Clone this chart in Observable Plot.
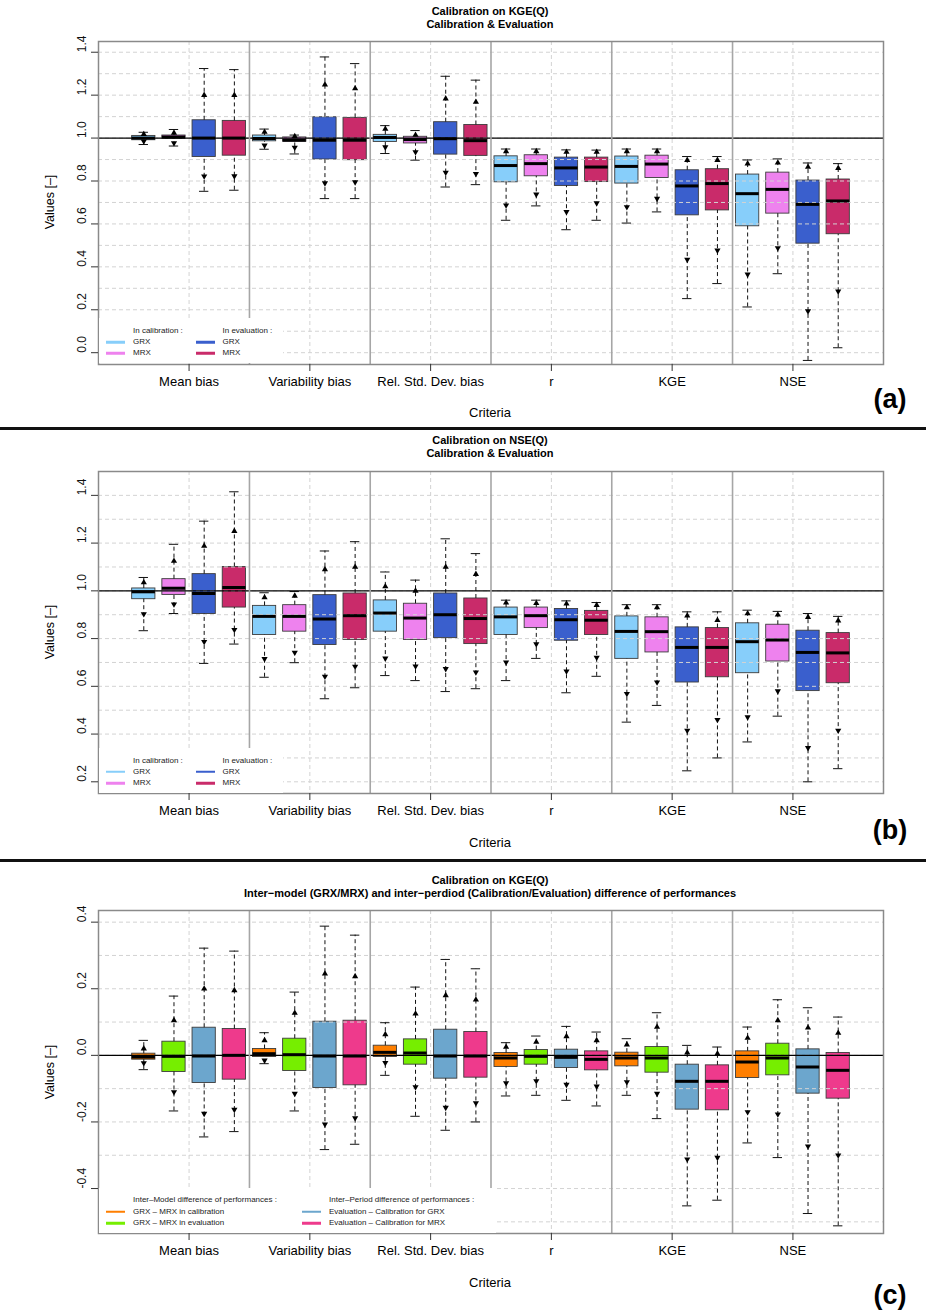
<!DOCTYPE html>
<html><head><meta charset="utf-8">
<script src="https://cdn.jsdelivr.net/npm/d3@7"></script>
<script src="https://cdn.jsdelivr.net/npm/@observablehq/plot@0.6"></script>
<style>
body{margin:0;background:#fff;font-family:"Liberation Sans",Arial,Helvetica,sans-serif;}
#page{position:relative;width:926px;height:1314px;overflow:hidden;background:#fff;}
.panel{position:absolute;left:0;width:926px;}
.panel svg{position:absolute;left:0;top:0;overflow:visible;}
.t{position:absolute;white-space:nowrap;color:#000;line-height:1;transform:translate(-50%,-50%);}
.tl{position:absolute;white-space:nowrap;color:#222;line-height:1;transform:translate(0,-50%);font-size:8px;}
.leg{position:absolute;background:#fff;}
.ll{position:absolute;height:2.5px;width:19px;transform:translate(0,-50%);}
.sep{position:absolute;left:0;width:926px;height:3px;background:#111;}
</style></head><body><div id="page"></div>
<script>
// ---------- categories & series ----------
const criteria = ["Mean bias","Variability bias","Rel. Std. Dev. bias","r","KGE","NSE"];
const seriesAB = ["GRX in calibration","MRX in calibration","GRX in evaluation","MRX in evaluation"];
const colorsAB = ["#87CEFA","#EE82EE","#3A5FCD","#C92B6A"];
const seriesC = ["GRX − MRX in calibration","GRX − MRX in evaluation","Evaluation − Calibration for GRX","Evaluation − Calibration for MRX"];
const colorsC = ["#FF7F00","#76EE00","#6CA6CD","#EE3A8C"];

// ---------- panel (a): Calibration on KGE(Q) ----------
// order in each criterion: GRX cal, MRX cal, GRX eval, MRX eval
const aLow  = [0.970,0.963,0.752,0.757, 0.948,0.926,0.718,0.718, 0.928,0.897,0.772,0.783, 0.617,0.684,0.573,0.617, 0.604,0.656,0.252,0.322, 0.213,0.368,-0.036,0.023];
const aTLo  = [0.985,0.977,0.822,0.823, 0.966,0.956,0.790,0.795, 0.958,0.935,0.840,0.834, 0.687,0.738,0.656,0.697, 0.679,0.718,0.434,0.477, 0.365,0.488,0.194,0.286];
const aQ1   = [0.990,0.997,0.912,0.918, 0.985,0.983,0.900,0.897, 0.982,0.975,0.923,0.917, 0.794,0.822,0.777,0.795, 0.788,0.814,0.640,0.663, 0.589,0.648,0.508,0.552];
const aMed  = [1.000,1.005,1.000,1.000, 0.998,0.990,0.990,0.990, 1.003,0.993,0.997,0.988, 0.872,0.881,0.861,0.865, 0.868,0.879,0.777,0.788, 0.741,0.761,0.691,0.707];
const aQ3   = [1.010,1.012,1.083,1.080, 1.012,1.003,1.097,1.094, 1.015,1.006,1.074,1.061, 0.915,0.920,0.909,0.909, 0.914,0.918,0.850,0.855, 0.830,0.839,0.802,0.807];
const aTHi  = [1.018,1.024,1.200,1.200, 1.028,1.008,1.249,1.231, 1.042,1.014,1.184,1.168, 0.938,0.938,0.935,0.935, 0.938,0.938,0.897,0.897, 0.881,0.885,0.865,0.860];
const aHigh = [1.027,1.040,1.324,1.319, 1.042,1.014,1.378,1.347, 1.058,1.035,1.288,1.270, 0.949,0.949,0.945,0.944, 0.949,0.949,0.914,0.914, 0.898,0.903,0.884,0.881];

// ---------- panel (b): Calibration on NSE(Q) ----------
const bLow  = [0.833,0.905,0.696,0.777, 0.638,0.699,0.548,0.594, 0.645,0.624,0.578,0.590, 0.624,0.717,0.573,0.642, 0.450,0.520,0.246,0.300, 0.367,0.475,0.200,0.255];
const bTLo  = [0.903,0.944,0.787,0.837, 0.715,0.742,0.641,0.683, 0.717,0.684,0.673,0.659, 0.701,0.777,0.663,0.721, 0.569,0.617,0.415,0.460, 0.471,0.580,0.342,0.415];
const bQ1   = [0.965,0.983,0.903,0.930, 0.815,0.829,0.773,0.794, 0.829,0.794,0.802,0.777, 0.815,0.844,0.791,0.815, 0.715,0.742,0.616,0.638, 0.655,0.704,0.580,0.613];
const bMed  = [0.996,1.011,0.989,1.014, 0.893,0.893,0.882,0.896, 0.907,0.886,0.900,0.884, 0.891,0.896,0.879,0.877, 0.830,0.829,0.763,0.763, 0.787,0.794,0.742,0.740];
const bQ3   = [1.010,1.049,1.070,1.100, 0.937,0.940,0.982,0.989, 0.960,0.946,0.989,0.968, 0.930,0.930,0.924,0.916, 0.893,0.889,0.847,0.844, 0.864,0.858,0.833,0.823];
const bTHi  = [1.035,1.125,1.188,1.250, 0.972,0.979,1.090,1.100, 1.018,1.000,1.100,1.070, 0.950,0.948,0.946,0.940, 0.930,0.930,0.896,0.877, 0.905,0.900,0.890,0.875];
const bHigh = [1.056,1.195,1.292,1.415, 0.992,0.997,1.167,1.206, 1.079,1.045,1.218,1.156, 0.961,0.961,0.958,0.951, 0.942,0.942,0.912,0.912, 0.919,0.914,0.905,0.893];

// ---------- panel (c): differences of performances ----------
const cLow  = [-0.043,-0.167,-0.245,-0.229, -0.025,-0.167,-0.283,-0.267, -0.060,-0.183,-0.225,-0.200, -0.122,-0.120,-0.135,-0.152, -0.120,-0.190,-0.452,-0.435, -0.263,-0.307,-0.475,-0.512];
const cTLo  = [-0.023,-0.110,-0.175,-0.163, -0.015,-0.115,-0.207,-0.188, -0.022,-0.095,-0.157,-0.143, -0.083,-0.077,-0.088,-0.093, -0.080,-0.115,-0.312,-0.307, -0.170,-0.177,-0.273,-0.300];
const cQ1   = [-0.013,-0.050,-0.083,-0.073, -0.005,-0.047,-0.098,-0.090, -0.005,-0.028,-0.070,-0.067, -0.035,-0.028,-0.038,-0.045, -0.033,-0.052,-0.163,-0.165, -0.068,-0.060,-0.115,-0.130];
const cMed  = [-0.005,-0.003,-0.002,0.000, 0.005,0.002,-0.002,-0.002, 0.009,0.007,-0.002,-0.002, -0.008,-0.003,-0.006,-0.012, -0.008,-0.008,-0.078,-0.078, -0.020,-0.008,-0.035,-0.045];
const cQ3   = [0.005,0.041,0.083,0.079, 0.019,0.050,0.101,0.104, 0.029,0.048,0.077,0.070, 0.007,0.016,0.017,0.012, 0.008,0.025,-0.028,-0.030, 0.012,0.035,0.018,0.007];
const cTHi  = [0.020,0.105,0.200,0.195, 0.045,0.127,0.245,0.237, 0.063,0.125,0.180,0.167, 0.025,0.040,0.057,0.045, 0.032,0.085,0.008,0.005, 0.052,0.105,0.083,0.067];
const cHigh = [0.045,0.178,0.322,0.313, 0.068,0.190,0.388,0.361, 0.098,0.205,0.288,0.260, 0.038,0.058,0.087,0.070, 0.050,0.128,0.030,0.025, 0.085,0.167,0.143,0.115];

// ---------- tick labels ----------
const aTicks = [0.0,0.2,0.4,0.6,0.8,1.0,1.2,1.4];
const bTicks = [0.2,0.4,0.6,0.8,1.0,1.2,1.4];
const cTicks = [-0.4,-0.2,0.0,0.2,0.4];

// ---------- drawing ----------
const page = document.getElementById("page");
const sqrt3 = Math.sqrt(3);
const triUp = {draw(ctx, size){ const y = -Math.sqrt(size/(sqrt3*3)); ctx.moveTo(0, y*2); ctx.lineTo(-sqrt3*y, -y); ctx.lineTo(sqrt3*y, -y); ctx.closePath(); }};
const triDown = {draw(ctx, size){ const y = Math.sqrt(size/(sqrt3*3)); ctx.moveTo(0, y*2); ctx.lineTo(-sqrt3*y, -y); ctx.lineTo(sqrt3*y, -y); ctx.closePath(); }};

function txt(parent, s, x, y, style, cls) {
  const d = document.createElement("div");
  d.className = cls || "t"; d.textContent = s;
  d.style.left = x + "px"; d.style.top = y + "px";
  Object.assign(d.style, style || {});
  parent.appendChild(d); return d;
}

function panel(cfg) {
  const div = document.createElement("div");
  div.className = "panel";
  div.style.top = cfg.top + "px"; div.style.height = cfg.height + "px";
  page.appendChild(div);
  const n = cfg.q1.length;
  const idx = d3.range(n);
  const pos = i => i + 1;
  const hw = 0.385, cw = 0.155;
  const groupCenters = criteria.map((c, g) => g * 4 + 2.5);
  const separators = d3.range(1, criteria.length).map(g => g * 4 + 0.5);
  const grid = d3.range(Math.round(cfg.gridFrom * 10), Math.round(cfg.gridTo * 10) + 1).map(k => k / 10);
  const ser = i => cfg.series[i % 4];
  const svg = Plot.plot({
    width: 926, height: cfg.height,
    marginLeft: 98, marginRight: 43, marginTop: cfg.mTop, marginBottom: cfg.mBottom,
    style: {fontFamily: "Liberation Sans, Arial, sans-serif", background: "transparent", overflow: "visible"},
    x: {domain: [-0.5, 25.5], axis: null},
    y: {domain: cfg.yDomain, axis: null},
    color: {domain: cfg.series, range: cfg.colors},
    marks: [
      Plot.ruleX(groupCenters, {x: d => d, stroke: "#d3d3d3", strokeDasharray: "4,3", strokeWidth: 1}),
      Plot.rect(idx, {x1: i => pos(i) - hw, x2: i => pos(i) + hw, y1: i => cfg.q1[i], y2: i => cfg.q3[i], fill: ser, stroke: "#3c3c3c", strokeWidth: 0.9}),
      Plot.ruleY(grid, {y: d => d, stroke: "#d3d3d3", strokeDasharray: "4,3", strokeWidth: 1}),
      Plot.ruleX(idx, {x: pos, y1: i => cfg.low[i], y2: i => cfg.q1[i], stroke: "#111", strokeDasharray: "4,3", strokeWidth: 1}),
      Plot.ruleX(idx, {x: pos, y1: i => cfg.q3[i], y2: i => cfg.high[i], stroke: "#111", strokeDasharray: "4,3", strokeWidth: 1}),
      Plot.ruleY(idx, {y: i => cfg.low[i], x1: i => pos(i) - cw, x2: i => pos(i) + cw, stroke: "#111", strokeWidth: 1}),
      Plot.ruleY(idx, {y: i => cfg.high[i], x1: i => pos(i) - cw, x2: i => pos(i) + cw, stroke: "#111", strokeWidth: 1}),
      Plot.ruleY([cfg.ref], {y: d => d, stroke: "#000", strokeWidth: 1.3}),
      Plot.ruleY(idx, {y: i => cfg.med[i], x1: i => pos(i) - hw, x2: i => pos(i) + hw, stroke: "#000", strokeWidth: 3}),
      Plot.dot(idx, {x: pos, y: i => cfg.tHi[i], symbol: triUp, r: 2.3, fill: "#000", stroke: null}),
      Plot.dot(idx, {x: pos, y: i => cfg.tLo[i], symbol: triDown, r: 2.3, fill: "#000", stroke: null}),
      Plot.ruleX(separators, {x: d => d, stroke: "#a6a6a6", strokeWidth: 1.6}),
      Plot.frame({stroke: "#8a8a8a", strokeWidth: 1.5}),
      Plot.axisX(groupCenters, {tickFormat: d => criteria[(d - 2.5) / 4], tickSize: 7, tickPadding: 5, fontSize: 13, label: null, stroke: "#333"}),
      Plot.axisY(cfg.ticks, {tickSize: 7, tickFormat: () => "", label: null, stroke: "#333"}),
      Plot.text(cfg.ticks, {y: d => d, text: d => d.toFixed(1), frameAnchor: "left", dx: -16, rotate: -90, fontSize: 12, fill: "#111"})
    ]
  });
  div.appendChild(svg);
  // titles and labels
  txt(div, cfg.title1, 490, cfg.t1y, {fontSize: "11px", fontWeight: "bold"});
  txt(div, cfg.title2, 490, cfg.t1y + 12.8, {fontSize: "11px", fontWeight: "bold"});
  txt(div, "Values [–]", 50, cfg.ylabY, {fontSize: "12.5px", transform: "translate(-50%,-50%) rotate(-90deg)"});
  txt(div, "Criteria", 490, cfg.critY, {fontSize: "13px"});
  txt(div, cfg.letter, 890, cfg.letterY, {fontSize: "27px", fontWeight: "bold"});
  // legend (white box inside the frame, bottom-left)
  const lg = document.createElement("div");
  lg.className = "leg";
  Object.assign(lg.style, {left: "99px", top: cfg.legTop + "px", width: cfg.legW + "px", height: cfg.legH + "px"});
  div.appendChild(lg);
  cfg.legCols.forEach((col, c) => {
    txt(lg, col.header, col.tx, cfg.legRows[0], {}, "tl");
    [0, 1].forEach(r => {
      const k = c * 2 + r;
      const l = document.createElement("div");
      l.className = "ll";
      Object.assign(l.style, {left: col.lx + "px", top: cfg.legRows[r + 1] + "px", background: cfg.colors[k]});
      lg.appendChild(l);
      txt(lg, col.labels[r], col.tx, cfg.legRows[r + 1], {}, "tl");
    });
  });
}

panel({
  top: 0, height: 428, mTop: 41, mBottom: 64, yDomain: [-0.055, 1.45],
  gridFrom: 0.0, gridTo: 1.4, ref: 1.0, ticks: aTicks,
  series: seriesAB, colors: colorsAB,
  low: aLow, tLo: aTLo, q1: aQ1, med: aMed, q3: aQ3, tHi: aTHi, high: aHigh,
  title1: "Calibration on KGE(Q)", title2: "Calibration & Evaluation", t1y: 10.7,
  ylabY: 202, critY: 412, letter: "(a)", letterY: 399,
  legTop: 318, legW: 184, legH: 45, legRows: [12.7, 24, 35.3],
  legCols: [{header: "In calibration :", labels: ["GRX", "MRX"], lx: 7, tx: 34},
            {header: "In evaluation :", labels: ["GRX", "MRX"], lx: 97, tx: 123.5}]
});

panel({
  top: 430, height: 428, mTop: 41, mBottom: 65, yDomain: [0.151, 1.5],
  gridFrom: 0.2, gridTo: 1.5, ref: 1.0, ticks: bTicks,
  series: seriesAB, colors: colorsAB,
  low: bLow, tLo: bTLo, q1: bQ1, med: bMed, q3: bQ3, tHi: bTHi, high: bHigh,
  title1: "Calibration on NSE(Q)", title2: "Calibration & Evaluation", t1y: 10,
  ylabY: 202, critY: 411.7, letter: "(b)", letterY: 400,
  legTop: 318, legW: 184, legH: 44.5, legRows: [12.5, 23.8, 35],
  legCols: [{header: "In calibration :", labels: ["GRX", "MRX"], lx: 7, tx: 34},
            {header: "In evaluation :", labels: ["GRX", "MRX"], lx: 97, tx: 123.5}]
});

panel({
  top: 860, height: 454, mTop: 50, mBottom: 81, yDomain: [-0.535, 0.435],
  gridFrom: -0.5, gridTo: 0.4, ref: 0.0, ticks: cTicks,
  series: seriesC, colors: colorsC,
  low: cLow, tLo: cTLo, q1: cQ1, med: cMed, q3: cQ3, tHi: cTHi, high: cHigh,
  title1: "Calibration on KGE(Q)", title2: "Inter−model (GRX/MRX) and inter−perdiod (Calibration/Evaluation) difference of performances", t1y: 20,
  ylabY: 211.7, critY: 421.7, letter: "(c)", letterY: 435,
  legTop: 328, legW: 397, legH: 44.5, legRows: [12.3, 23.5, 35],
  legCols: [{header: "Inter–Model difference of performances :", labels: ["GRX – MRX in calibration", "GRX – MRX in evaluation"], lx: 7, tx: 34},
            {header: "Inter–Period difference of performances :", labels: ["Evaluation – Calibration for GRX", "Evaluation – Calibration for MRX"], lx: 203, tx: 230}]
});

// panel separators
[426.5, 858.5].forEach(y => { const s = document.createElement("div"); s.className = "sep"; s.style.top = y + "px"; page.appendChild(s); });
</script>
</body></html>
